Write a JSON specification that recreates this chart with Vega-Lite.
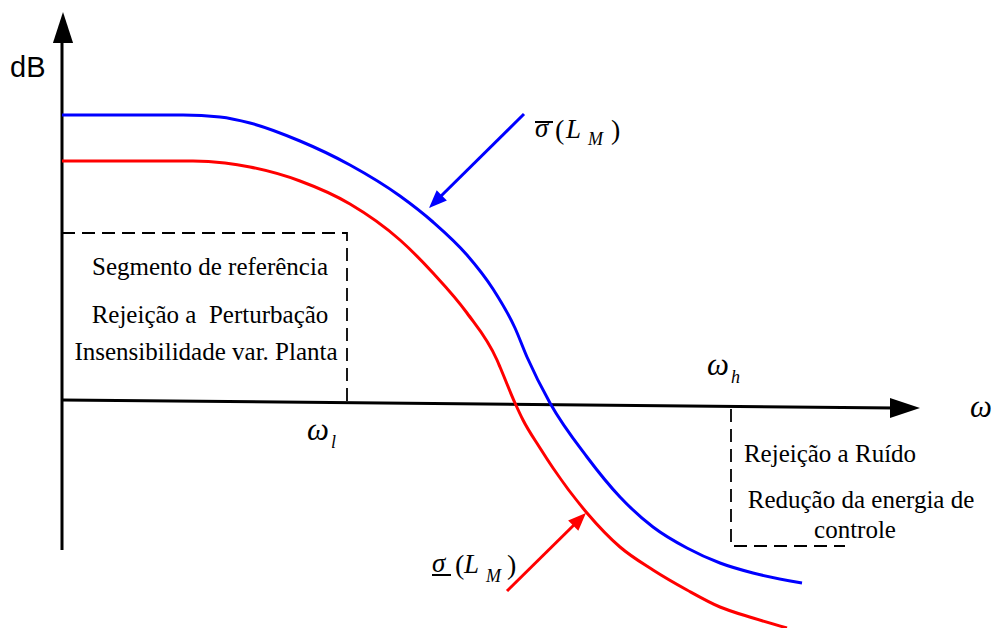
{
  "$schema": "https://vega.github.io/schema/vega-lite/v6.json",
  "width": 996,
  "height": 628,
  "autosize": {"type": "none"},
  "padding": 0,
  "background": "#ffffff",
  "config": {"view": {"stroke": null}},
  "datasets": {
    "curves": [
      {"curve": "upper", "x": 62, "y": 115}, {"curve": "upper", "x": 183, "y": 115},
      {"curve": "upper", "x": 220, "y": 117}, {"curve": "upper", "x": 250, "y": 123},
      {"curve": "upper", "x": 300, "y": 141}, {"curve": "upper", "x": 350, "y": 165},
      {"curve": "upper", "x": 400, "y": 196}, {"curve": "upper", "x": 433, "y": 222},
      {"curve": "upper", "x": 467, "y": 255}, {"curve": "upper", "x": 493, "y": 289},
      {"curve": "upper", "x": 515, "y": 328}, {"curve": "upper", "x": 527, "y": 357},
      {"curve": "upper", "x": 550, "y": 403}, {"curve": "upper", "x": 587, "y": 457},
      {"curve": "upper", "x": 620, "y": 497}, {"curve": "upper", "x": 653, "y": 527},
      {"curve": "upper", "x": 687, "y": 548}, {"curve": "upper", "x": 720, "y": 563},
      {"curve": "upper", "x": 753, "y": 573}, {"curve": "upper", "x": 802, "y": 583},
      {"curve": "lower", "x": 62, "y": 161}, {"curve": "lower", "x": 193, "y": 161},
      {"curve": "lower", "x": 225, "y": 163}, {"curve": "lower", "x": 250, "y": 167},
      {"curve": "lower", "x": 300, "y": 181}, {"curve": "lower", "x": 350, "y": 204},
      {"curve": "lower", "x": 400, "y": 240}, {"curve": "lower", "x": 433, "y": 273},
      {"curve": "lower", "x": 467, "y": 313}, {"curve": "lower", "x": 497, "y": 360},
      {"curve": "lower", "x": 500, "y": 367}, {"curve": "lower", "x": 515, "y": 403},
      {"curve": "lower", "x": 523, "y": 420}, {"curve": "lower", "x": 540, "y": 448},
      {"curve": "lower", "x": 553, "y": 468}, {"curve": "lower", "x": 587, "y": 513},
      {"curve": "lower", "x": 620, "y": 547}, {"curve": "lower", "x": 653, "y": 570},
      {"curve": "lower", "x": 687, "y": 590}, {"curve": "lower", "x": 720, "y": 607},
      {"curve": "lower", "x": 753, "y": 618}, {"curve": "lower", "x": 787, "y": 628}
    ],
    "axes": [
      {"axis": "dB", "seq": 1, "x": 62, "y": 550}, {"axis": "dB", "seq": 2, "x": 62, "y": 40},
      {"axis": "w", "seq": 1, "x": 62, "y": 400}, {"axis": "w", "seq": 2, "x": 895, "y": 408}
    ],
    "bands": [
      {"band": "low", "seq": 1, "x": 62, "y": 233}, {"band": "low", "seq": 2, "x": 347, "y": 233},
      {"band": "low", "seq": 3, "x": 347, "y": 401},
      {"band": "high", "seq": 1, "x": 731, "y": 409}, {"band": "high", "seq": 2, "x": 731, "y": 546},
      {"band": "high", "seq": 3, "x": 845, "y": 546}
    ],
    "pointers": [
      {"curve": "upper", "seq": 1, "x": 524, "y": 114}, {"curve": "upper", "seq": 2, "x": 437, "y": 200},
      {"curve": "lower", "seq": 1, "x": 507, "y": 591}, {"curve": "lower", "seq": 2, "x": 579, "y": 520}
    ],
    "heads": [
      {"head": "dB", "x": 63, "y": 27.5},
      {"head": "w", "x": 905, "y": 408},
      {"head": "upper", "x": 435.4, "y": 201.7},
      {"head": "lower", "x": 579.6, "y": 519.3}
    ],
    "bars": [
      {"bar": "upper", "x": 535, "x2": 553, "y": 122},
      {"bar": "lower", "x": 432, "x2": 451, "y": 575}
    ],
    "frequencies": [
      {"x": 970, "y": 417, "text": "ω"},
      {"x": 707, "y": 375, "text": "ω"},
      {"x": 307, "y": 440, "text": "ω"}
    ],
    "indices": [
      {"x": 731, "y": 383, "text": "h"},
      {"x": 331, "y": 448, "text": "l"},
      {"x": 588, "y": 145, "text": "M"},
      {"x": 486, "y": 582, "text": "M"}
    ],
    "singular": [
      {"x": 535, "y": 137, "text": "σ"},
      {"x": 566, "y": 138, "text": "L"},
      {"x": 432, "y": 572, "text": "σ"},
      {"x": 464, "y": 573, "text": "L"}
    ],
    "delimiters": [
      {"x": 555, "y": 139, "text": "("},
      {"x": 611, "y": 139, "text": ")"},
      {"x": 455, "y": 574, "text": "("},
      {"x": 507, "y": 574, "text": ")"}
    ],
    "notes": [
      {"x": 210, "y": 275, "text": "Segmento de referência"},
      {"x": 210, "y": 323, "text": "Rejeição a\u00a0 Perturbação"},
      {"x": 206, "y": 360, "text": "Insensibilidade var. Planta"},
      {"x": 830, "y": 462, "text": "Rejeição a Ruído"},
      {"x": 861, "y": 508, "text": "Redução da energia de"},
      {"x": 855, "y": 538, "text": "controle"}
    ],
    "units": [
      {"x": 10, "y": 77, "text": "dB"}
    ]
  },
  "encoding": {
    "x": {"field": "x", "type": "quantitative", "scale": {"domain": [0, 996], "nice": false, "zero": false}, "axis": null},
    "y": {"field": "y", "type": "quantitative", "scale": {"domain": [0, 628], "nice": false, "zero": false, "reverse": true}, "axis": null}
  },
  "layer": [
    {
      "data": {"name": "bands"},
      "mark": {"type": "line", "color": "#000000", "strokeWidth": 1.8, "strokeDash": [13, 7]},
      "encoding": {"detail": {"field": "band"}, "order": {"field": "seq"}}
    },
    {
      "data": {"name": "axes"},
      "mark": {"type": "line", "color": "#000000", "strokeWidth": 3},
      "encoding": {"detail": {"field": "axis"}, "order": {"field": "seq"}}
    },
    {
      "data": {"name": "heads"},
      "transform": [{"filter": "datum.head === 'dB'"}],
      "mark": {"type": "point", "shape": "M0,-1L0.65,1L-0.65,1Z", "size": 961, "filled": true, "fill": "#000000", "strokeWidth": 0, "opacity": 1}
    },
    {
      "data": {"name": "heads"},
      "transform": [{"filter": "datum.head === 'w'"}],
      "mark": {"type": "point", "shape": "M1,0L-1,0.67L-1,-0.67Z", "size": 900, "filled": true, "fill": "#000000", "strokeWidth": 0, "opacity": 1}
    },
    {
      "data": {"name": "curves"},
      "transform": [{"filter": "datum.curve === 'upper'"}],
      "mark": {"type": "line", "color": "#0000ff", "strokeWidth": 3, "interpolate": "monotone", "clip": true}
    },
    {
      "data": {"name": "curves"},
      "transform": [{"filter": "datum.curve === 'lower'"}],
      "mark": {"type": "line", "color": "#ff0000", "strokeWidth": 3, "interpolate": "monotone", "clip": true}
    },
    {
      "data": {"name": "pointers"},
      "transform": [{"filter": "datum.curve === 'upper'"}],
      "mark": {"type": "line", "color": "#0000ff", "strokeWidth": 3},
      "encoding": {"order": {"field": "seq"}}
    },
    {
      "data": {"name": "pointers"},
      "transform": [{"filter": "datum.curve === 'lower'"}],
      "mark": {"type": "line", "color": "#ff0000", "strokeWidth": 3},
      "encoding": {"order": {"field": "seq"}}
    },
    {
      "data": {"name": "heads"},
      "transform": [{"filter": "datum.head === 'upper'"}],
      "mark": {"type": "point", "shape": "M0,-1L0.8,1L-0.8,1Z", "size": 324, "angle": 225, "filled": true, "fill": "#0000ff", "strokeWidth": 0, "opacity": 1}
    },
    {
      "data": {"name": "heads"},
      "transform": [{"filter": "datum.head === 'lower'"}],
      "mark": {"type": "point", "shape": "M0,-1L0.8,1L-0.8,1Z", "size": 324, "angle": 45, "filled": true, "fill": "#ff0000", "strokeWidth": 0, "opacity": 1}
    },
    {
      "data": {"name": "bars"},
      "mark": {"type": "rule", "color": "#000000", "strokeWidth": 2},
      "encoding": {"x2": {"field": "x2"}}
    },
    {
      "data": {"name": "units"},
      "mark": {"type": "text", "font": "Liberation Sans", "fontSize": 29, "align": "left", "baseline": "alphabetic", "color": "#000000"},
      "encoding": {"text": {"field": "text"}}
    },
    {
      "data": {"name": "notes"},
      "mark": {"type": "text", "font": "Liberation Serif", "fontSize": 25, "align": "center", "baseline": "alphabetic", "color": "#000000"},
      "encoding": {"text": {"field": "text"}}
    },
    {
      "data": {"name": "frequencies"},
      "mark": {"type": "text", "font": "Liberation Serif", "fontStyle": "italic", "fontSize": 31, "align": "left", "baseline": "alphabetic", "color": "#000000"},
      "encoding": {"text": {"field": "text"}}
    },
    {
      "data": {"name": "singular"},
      "mark": {"type": "text", "font": "Liberation Serif", "fontStyle": "italic", "fontSize": 27, "align": "left", "baseline": "alphabetic", "color": "#000000"},
      "encoding": {"text": {"field": "text"}}
    },
    {
      "data": {"name": "indices"},
      "mark": {"type": "text", "font": "Liberation Serif", "fontStyle": "italic", "fontSize": 18, "align": "left", "baseline": "alphabetic", "color": "#000000"},
      "encoding": {"text": {"field": "text"}}
    },
    {
      "data": {"name": "delimiters"},
      "mark": {"type": "text", "font": "Liberation Serif", "fontSize": 28, "align": "left", "baseline": "alphabetic", "color": "#000000"},
      "encoding": {"text": {"field": "text"}}
    }
  ]
}
